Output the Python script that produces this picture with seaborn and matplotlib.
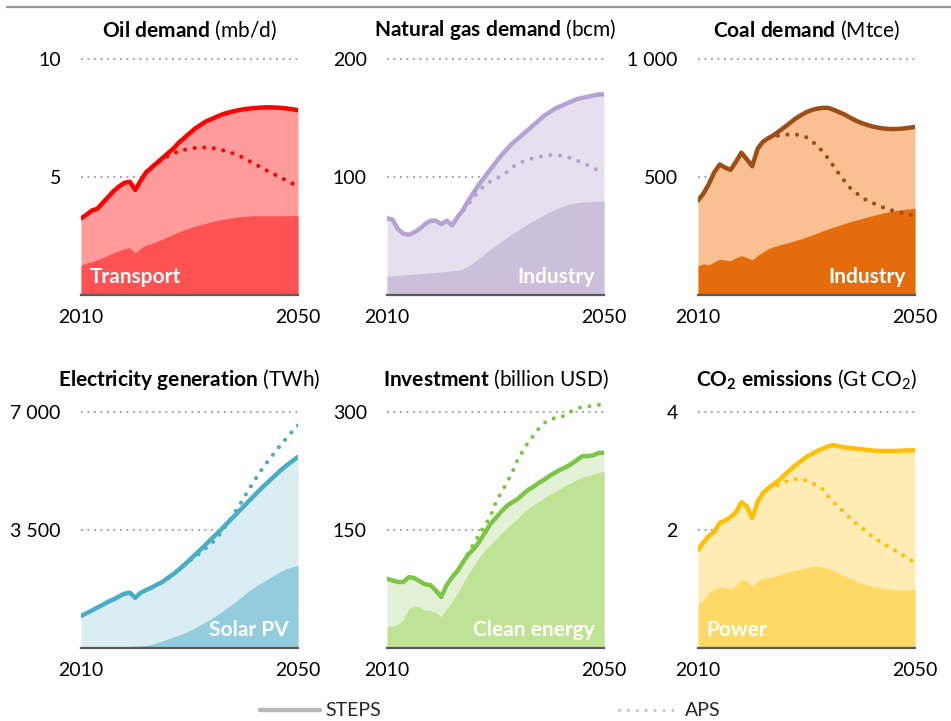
import matplotlib
matplotlib.use("Agg")
import matplotlib.pyplot as plt
import seaborn as sns
import pandas as pd
from matplotlib.lines import Line2D

# ---------------------------------------------------------------- data
years = list(range(2010, 2051))
aps_years = list(range(2023, 2051))

oil_steps = [3.25, 3.40, 3.58, 3.65, 3.90, 4.15, 4.40, 4.60, 4.75, 4.80, 4.45,
             4.85, 5.20, 5.40, 5.60, 5.80, 6.00, 6.20, 6.45, 6.65, 6.85, 7.05,
             7.20, 7.35, 7.45, 7.55, 7.65, 7.72, 7.78, 7.83, 7.87, 7.90, 7.92,
             7.94, 7.95, 7.95, 7.94, 7.93, 7.90, 7.87, 7.83]
oil_aps = [5.40, 5.58, 5.75, 5.88, 6.00, 6.08, 6.15, 6.20, 6.23, 6.25, 6.25,
           6.23, 6.20, 6.14, 6.08, 6.00, 5.92, 5.80, 5.68, 5.56, 5.43, 5.30,
           5.18, 5.07, 4.96, 4.83, 4.72, 4.62]
oil_transport = [1.27, 1.35, 1.42, 1.50, 1.58, 1.68, 1.80, 1.88, 1.96, 2.00,
                 1.78, 1.98, 2.12, 2.18, 2.27, 2.37, 2.47, 2.57, 2.67, 2.76,
                 2.84, 2.92, 2.98, 3.04, 3.10, 3.16, 3.20, 3.24, 3.28, 3.31,
                 3.33, 3.35, 3.36, 3.36, 3.36, 3.36, 3.36, 3.36, 3.36, 3.36, 3.36]

gas_steps = [65, 64, 56, 52, 51, 53, 56, 60, 63, 63, 60, 63, 59, 66, 72, 80,
             87, 94, 100, 106, 112, 118, 123, 128, 132, 136, 140, 144, 148,
             152, 155, 158, 160, 162, 164, 166, 167, 168, 169, 170, 170]
gas_aps = [66, 71, 77, 83, 88, 93, 96, 98, 101, 104, 108, 111, 113, 115, 116,
           117, 118, 118.5, 118.5, 118, 117, 116, 114, 112, 110, 108, 105, 103]
gas_industry = [16, 16.3, 16.6, 17, 17.3, 17.7, 18, 18.4, 18.8, 19.2, 19.6, 20,
                20.5, 21, 22, 24.5, 28, 31.5, 35, 38.5, 42, 45, 48.5, 51.5,
                54.5, 57.5, 60.5, 63, 65.5, 68, 70.5, 72.5, 74.5, 76, 77.5,
                78.3, 78.8, 79, 79.2, 79.3, 79.4]

coal_steps = [400, 430, 470, 520, 553, 540, 530, 565, 603, 575, 546, 620, 650,
              665, 678, 695, 712, 730, 748, 762, 775, 784, 790, 793, 793, 785,
              775, 765, 752, 740, 730, 722, 715, 710, 706, 704, 703, 704, 706,
              709, 712]
coal_aps = [665, 672, 676, 679, 681, 680, 677, 668, 652, 631, 608, 578, 546,
            513, 483, 455, 435, 418, 403, 392, 382, 372, 364, 357, 351, 346,
            340, 336]
coal_industry = [124, 132, 128, 140, 152, 148, 145, 158, 167, 158, 149, 168,
                 182, 197, 205, 212, 218, 224, 231, 238, 246, 254, 263, 272,
                 280, 288, 295, 303, 310, 317, 323, 329, 335, 341, 347, 352,
                 356, 360, 363, 365, 367]

elec_steps = [950, 1030, 1110, 1200, 1280, 1370, 1440, 1530, 1610, 1640, 1490,
              1640, 1720, 1790, 1880, 1960, 2080, 2190, 2320, 2460, 2610, 2760,
              2910, 3070, 3230, 3380, 3540, 3710, 3870, 4040, 4200, 4370, 4530,
              4700, 4850, 5000, 5150, 5300, 5430, 5550, 5670]
elec_aps = [1790, 1870, 1950, 2060, 2180, 2320, 2450, 2580, 2700, 2820, 2960,
            3090, 3250, 3460, 3700, 3930, 4180, 4450, 4720, 4970, 5220, 5450,
            5650, 5860, 6060, 6250, 6430, 6600]
elec_solar = [5, 8, 12, 15, 20, 25, 30, 35, 42, 50, 58, 66, 75, 110, 160, 210,
              270, 330, 380, 440, 520, 600, 690, 780, 870, 970, 1080, 1200,
              1310, 1440, 1570, 1700, 1810, 1910, 2000, 2100, 2200, 2290, 2360,
              2410, 2450]

inv_steps = [88, 86, 84, 84, 90, 89, 85, 81, 80, 73, 65, 80, 90, 98, 109, 119,
             126, 135, 146, 157, 165, 173, 180, 185, 189, 195, 201, 205, 210,
             214, 219, 223, 227, 230, 234, 239, 244, 244, 245, 248, 248]
inv_aps = [98, 109, 120, 133, 144, 156, 166, 184, 197, 209, 222, 238, 250, 261,
           270, 279, 286, 291, 292, 293, 297, 301, 305, 306, 307, 308, 309, 310]
inv_clean = [28, 28, 30, 36, 50, 54, 52, 48, 48, 45, 40, 50, 59, 70, 82, 94,
             105, 115, 124, 131, 138, 145, 152, 158, 164, 171, 177, 182, 186,
             191, 195, 199, 203, 207, 210, 214, 217, 219, 221, 223, 225]

co2_steps = [1.66, 1.79, 1.90, 1.97, 2.12, 2.16, 2.22, 2.30, 2.47, 2.40, 2.20,
             2.48, 2.63, 2.71, 2.78, 2.85, 2.94, 3.02, 3.10, 3.17, 3.24, 3.29,
             3.34, 3.38, 3.42, 3.44, 3.42, 3.40, 3.39, 3.38, 3.37, 3.36, 3.35,
             3.34, 3.34, 3.34, 3.34, 3.34, 3.35, 3.35, 3.35]
co2_aps = [2.71, 2.74, 2.76, 2.81, 2.85, 2.86, 2.86, 2.84, 2.80, 2.75, 2.69,
           2.57, 2.47, 2.38, 2.30, 2.20, 2.12, 2.06, 1.97, 1.90, 1.83, 1.79,
           1.72, 1.67, 1.62, 1.56, 1.50, 1.45]
co2_power = [0.76, 0.80, 0.95, 0.99, 1.04, 1.02, 1.01, 1.05, 1.17, 1.13, 1.04,
             1.14, 1.19, 1.20, 1.21, 1.24, 1.27, 1.30, 1.32, 1.34, 1.36, 1.38,
             1.38, 1.37, 1.35, 1.31, 1.26, 1.22, 1.18, 1.14, 1.10, 1.07, 1.05,
             1.03, 1.01, 1.00, 0.99, 0.99, 0.99, 0.99, 0.99]

titles_bold = ["Oil\\ demand", "Natural\\ gas\\ demand", "Coal\\ demand",
               "Electricity\\ generation", "Investment", "CO_2\\ emissions"]
titles_unit = ["(mb/d)", "(bcm)", "(Mtce)", "(TWh)", "(billion USD)",
               "(Gt CO$_2$)"]
y_ticks = [[5, 10], [100, 200], [500, 1000], [3500, 7000], [150, 300], [2, 4]]
y_ticklabels = [["5", "10"], ["100", "200"], ["500", "1 000"],
                ["3 500", "7 000"], ["150", "300"], ["2", "4"]]
sector_labels = ["Transport", "Industry", "Industry", "Solar PV",
                 "Clean energy", "Power"]
x_ticks = [2010, 2050]

# ---------------------------------------------------------------- style
line_colors = ["#ff0000", "#b3a2d3", "#9e4e14", "#4aadc6", "#7cc644", "#ffc000"]
total_fill = ["#ff9b9b", "#e6e0ee", "#f9c192", "#daedf3", "#e3f2d6", "#ffecb4"]
sector_fill = ["#ff5252", "#cbbfdc", "#e46c0a", "#93cddd", "#bfe395", "#ffd966"]
label_left = [True, False, False, False, False, True]

sns.set_theme(style="white")
plt.rcParams["font.family"] = ["Lato", "DejaVu Sans"]
plt.rcParams["mathtext.fontset"] = "custom"
plt.rcParams["mathtext.rm"] = "Lato"
plt.rcParams["mathtext.bf"] = "Lato:bold"
plt.rcParams["mathtext.it"] = "Lato:italic"

W, H = 951, 721
fig = plt.figure(figsize=(W / 100, H / 100), dpi=100)

steps_all = [oil_steps, gas_steps, coal_steps, elec_steps, inv_steps, co2_steps]
aps_all = [oil_aps, gas_aps, coal_aps, elec_aps, inv_aps, co2_aps]
sector_all = [oil_transport, gas_industry, coal_industry, elec_solar,
              inv_clean, co2_power]

lefts_px = [81, 387, 698]
width_px = 217
zero_px = [295, 648]
grid_h_px = 236
head = 1.06
title_y_px = [30, 379]
fs = 14
fs_title = 15

for i in range(6):
    r, c = divmod(i, 3)
    ax = fig.add_axes([lefts_px[c] / W, (H - zero_px[r]) / H,
                       width_px / W, grid_h_px * head / H])
    top = y_ticks[i][1]
    df = pd.DataFrame({"year": years, "steps": steps_all[i],
                       "sector": sector_all[i]})
    dfa = pd.DataFrame({"year": aps_years, "aps": aps_all[i]})

    for t in y_ticks[i]:
        ax.axhline(t, color="#9a9a9a", lw=1.3, ls=(0, (1, 2.6)), zorder=0.5)

    ax.fill_between(df["year"], 0, df["steps"], color=total_fill[i],
                    lw=0, zorder=1)
    ax.fill_between(df["year"], 0, df["sector"], color=sector_fill[i],
                    lw=0, zorder=2)
    sns.lineplot(data=dfa, x="year", y="aps", ax=ax, color=line_colors[i],
                 lw=3.0, linestyle=(0, (0.01, 2.3)), dash_capstyle="round",
                 zorder=3)
    sns.lineplot(data=df, x="year", y="steps", ax=ax, color=line_colors[i],
                 lw=3.2, zorder=4)

    ax.set_xlim(2010, 2050)
    ax.set_ylim(0, top * head)
    ax.set_xticks(x_ticks)
    ax.set_xticklabels([str(x) for x in x_ticks])
    ax.set_yticks(y_ticks[i])
    ax.set_yticklabels(y_ticklabels[i])
    ax.tick_params(axis="both", length=0, labelsize=fs, colors="black")
    ax.tick_params(axis="y", pad=14.5)
    ax.tick_params(axis="x", pad=10)
    ax.set_xlabel("")
    ax.set_ylabel("")
    for s in ["left", "right", "top"]:
        ax.spines[s].set_visible(False)
    ax.spines["bottom"].set_color("#595959")
    ax.spines["bottom"].set_linewidth(1.6)
    ax.spines["bottom"].set_zorder(5)
    ax.set_facecolor("none")

    if label_left[i]:
        ax.annotate(sector_labels[i], xy=(0, 0), xycoords="axes fraction",
                    xytext=(6, 13), textcoords="offset points", ha="left",
                    va="center", color="white", fontsize=fs_title,
                    fontweight="bold", zorder=6)
    else:
        ax.annotate(sector_labels[i], xy=(1, 0), xycoords="axes fraction",
                    xytext=(-7, 13), textcoords="offset points", ha="right",
                    va="center", color="white", fontsize=fs_title,
                    fontweight="bold", zorder=6)

    cx = (lefts_px[c] + width_px / 2) / W
    fig.text(cx, (H - title_y_px[r]) / H,
             r"$\mathbf{" + titles_bold[i] + "}$ " + titles_unit[i],
             ha="center", va="center", fontsize=fs_title, color="black")

# rule along the top of the figure
fig.add_artist(Line2D([7 / W, 1], [(H - 6.5) / H] * 2,
                      transform=fig.transFigure, color="#969696", lw=1.6))

handles = [Line2D([], [], color="#b8b8b8", lw=3.2),
           Line2D([], [], color="#c4c4c4", lw=2.2,
                  linestyle=(0, (0.01, 2.9)), dash_capstyle="round")]
fig.legend(handles, ["STEPS", "APS"], ncol=2, loc="center",
           bbox_to_anchor=(490 / W, (H - 711) / H), frameon=False,
           fontsize=fs, handlelength=3.1, handletextpad=0.3,
           columnspacing=12.2)

fig.savefig("out.png", dpi=100)
